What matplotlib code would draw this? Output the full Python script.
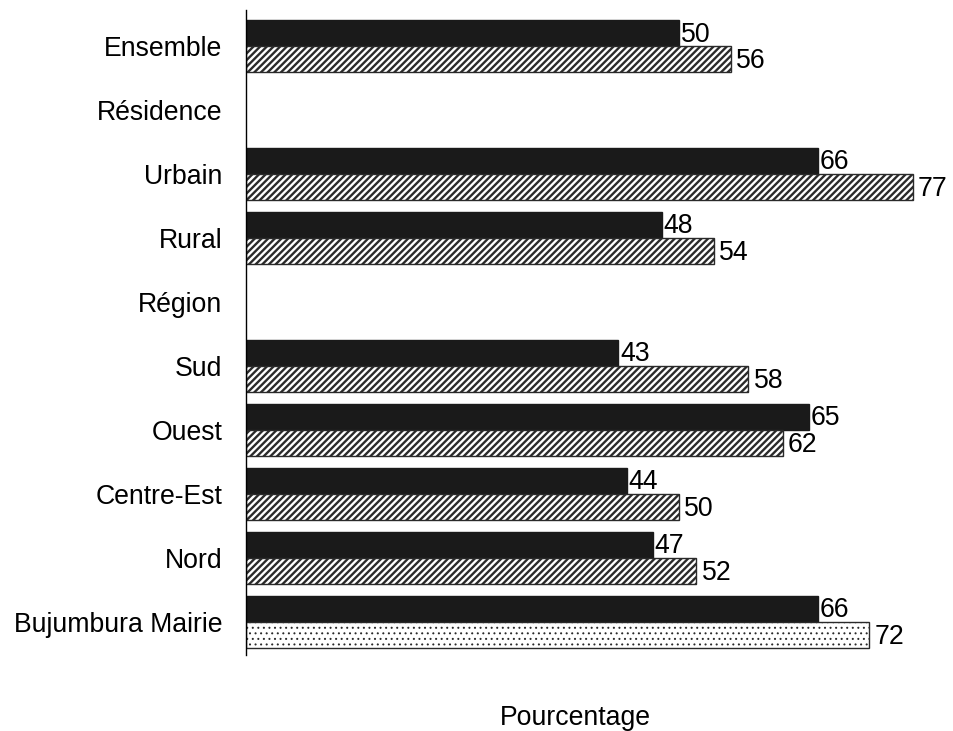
import matplotlib.pyplot as plt
import numpy as np

plt.rcParams['font.family'] = ['Liberation Sans', 'DejaVu Sans']

categories = ['Ensemble', 'Résidence', 'Urbain', 'Rural', 'Région',
              'Sud', 'Ouest', 'Centre-Est', 'Nord', 'Bujumbura Mairie']
serie_a = [50, None, 66, 48, None, 43, 65, 44, 47, 66]
serie_b = [56, None, 77, 54, None, 58, 62, 50, 52, 72]

fig = plt.figure(figsize=(9.54, 7.31), dpi=100)
ax = fig.add_axes((0.258, 0.104, 0.726, 0.882))

h = 0.406
fs = 19.2
y = np.arange(len(categories))
for i, (a, b) in enumerate(zip(serie_a, serie_b)):
    if a is None:
        continue
    ax.barh(y[i] - h / 2, a, height=h, color='#1a1a1a', edgecolor='#1a1a1a', linewidth=1)
    last = i == len(categories) - 1
    plt.rcParams['hatch.linewidth'] = 0.7 if last else 1.7
    hatch = '...' if last else '/////'
    ax.barh(y[i] + h / 2, b, height=h, color='white', edgecolor='#2a2a2a',
            hatch=hatch, linewidth=1, zorder=2)
    ax.text(a + 0.2, y[i] - h / 2 + 0.02, str(a), va='center', ha='left', fontsize=fs)
    ax.text(b + 0.6, y[i] + h / 2 + 0.03, str(b), va='center', ha='left', fontsize=fs)

ax.set_xlim(0, 80)
ax.set_ylim(9.52, -0.5625)
ax.set_yticks(y)
ax.set_yticklabels(categories, fontsize=fs)
ax.tick_params(axis='y', length=0, pad=17)
ax.set_xticks([])
for s in ['top', 'right', 'bottom']:
    ax.spines[s].set_visible(False)
ax.spines['left'].set_linewidth(1)

fig.text(0.603, 0.018, 'Pourcentage', ha='center', va='center', fontsize=fs)

fig.savefig('out.png', dpi=100)
